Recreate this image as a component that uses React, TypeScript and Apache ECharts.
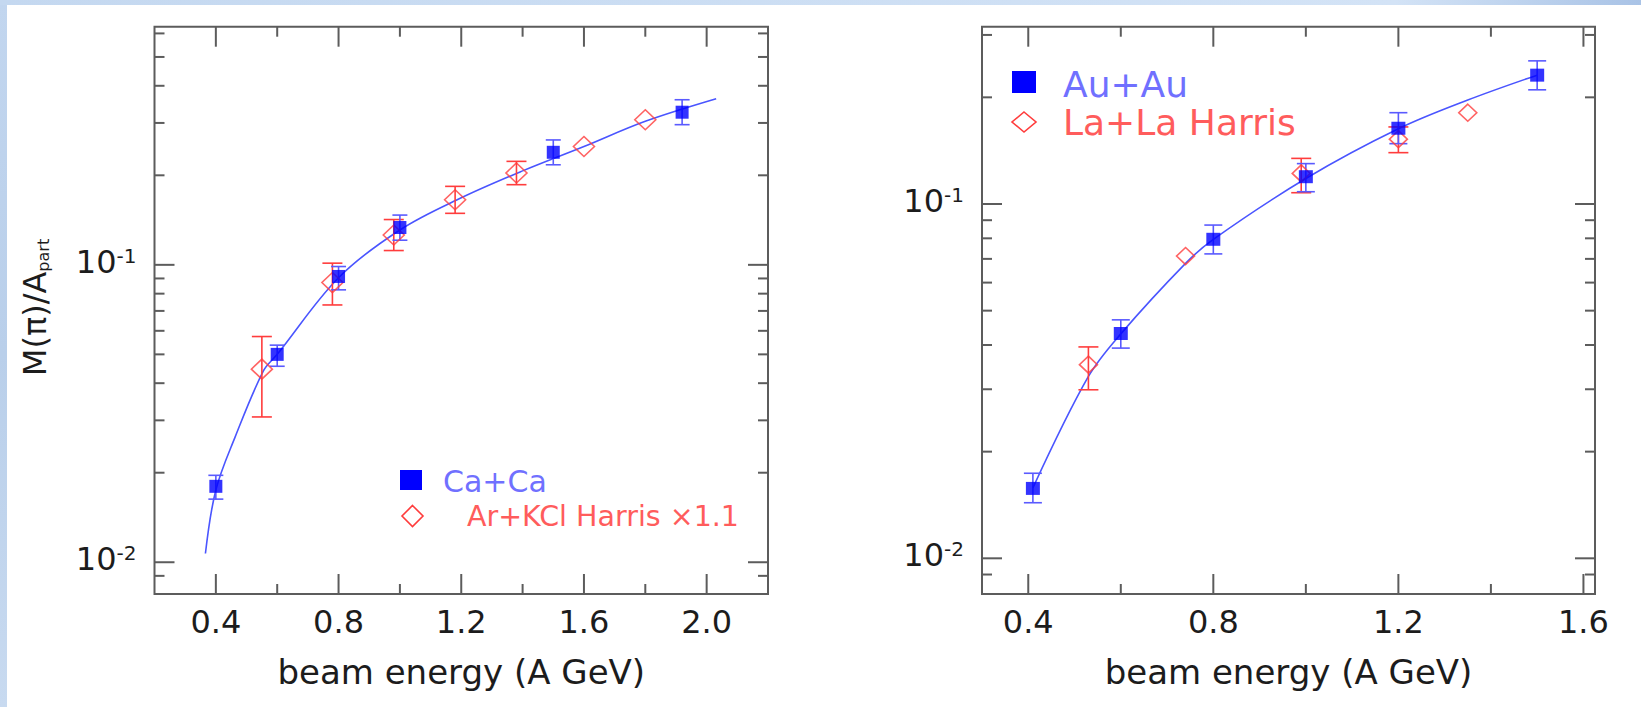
import React, { useEffect, useRef } from "react";
import * as echarts from "echarts";

const FONT = "'DejaVu Sans', 'Liberation Sans', sans-serif";
const TEXT = "#1c1c1c";
const FRAME = "#5c5c5c";
const BLUE = "#0000ff";
const BLUE_ERR = "#5a5aff";
const BLUE_LINE = "#4a55ff";
const RED = "#ff3c3c";

// ---------- Left panel: Ca+Ca and Ar+KCl ----------
const caX = [0.4, 0.6, 0.8, 1.0, 1.5, 1.92];
const caY = [0.018, 0.05, 0.0914, 0.1335, 0.239, 0.326];
const caLo = [0.0163, 0.0456, 0.0824, 0.121, 0.217, 0.296];
const caHi = [0.0196, 0.0537, 0.0987, 0.147, 0.263, 0.359];

const arX = [0.55, 0.78, 0.98, 1.18, 1.38, 1.6, 1.8];
const arY = [0.0446, 0.0872, 0.126, 0.1655, 0.2037, 0.25, 0.3075];
const arLo = [0.0308, 0.0733, 0.1117, 0.149, 0.186, null, null];
const arHi = [0.0574, 0.1013, 0.142, 0.1836, 0.2228, null, null];

const fitLX = [0.366, 0.4, 0.463, 0.555, 0.6, 0.8, 1.0, 1.2, 1.4, 1.6, 1.8, 2.031];
const fitLY = [0.0107, 0.0175, 0.0264, 0.044, 0.05, 0.0905, 0.131, 0.168, 0.207, 0.25, 0.304, 0.362];

// ---------- Right panel: Au+Au and La+La ----------
const auX = [0.41, 0.6, 0.8, 1.0, 1.2, 1.5];
const auY = [0.01575, 0.0431, 0.0795, 0.1194, 0.1636, 0.231];
const auLo = [0.01435, 0.0392, 0.0723, 0.1083, 0.148, 0.21];
const auHi = [0.01738, 0.0471, 0.0872, 0.13, 0.181, 0.2535];

const laX = [0.53, 0.74, 0.99, 1.2, 1.35];
const laY = [0.0352, 0.0713, 0.122, 0.1524, 0.181];
const laLo = [0.0299, null, 0.1076, 0.1396, null];
const laHi = [0.0395, null, 0.1345, 0.165, null];

const fitRX = [0.41, 0.53, 0.6, 0.74, 0.8, 1.0, 1.2, 1.35, 1.5];
const fitRY = [0.0158, 0.0326, 0.043, 0.068, 0.0795, 0.118, 0.163, 0.1965, 0.231];

// ---------- Axes ----------
const leftXRange = [0.2, 2.2];
const leftYRange = [0.00782, 0.632];
const rightXRange = [0.3, 1.625];
const rightYRange = [0.00793, 0.3165];

const leftXMajor = [0.4, 0.8, 1.2, 1.6, 2.0];
const leftXMinor = [0.6, 1.0, 1.4, 1.8];
const rightXMajor = [0.4, 0.8, 1.2, 1.6];
const rightXMinor = [0.6, 1.0, 1.4];
const yMajor = [0.01, 0.1];
const leftYMinor = [0.009, 0.02, 0.03, 0.04, 0.05, 0.06, 0.07, 0.08, 0.09, 0.2, 0.3, 0.4, 0.5, 0.6];
const rightYMinor = [0.009, 0.02, 0.03, 0.04, 0.05, 0.06, 0.07, 0.08, 0.09, 0.2, 0.3];

const xTitle = "beam energy (A GeV)";
const legendLeft = ["Ca+Ca", "Ar+KCl Harris ×1.1"];
const legendRight = ["Au+Au", "La+La Harris"];

const MAJOR_LEN = 20;
const MINOR_LEN = 10;

function tickData(xMajor: number[], xMinor: number[], yMinor: number[], xR: number[], yR: number[]) {
  const d: number[][] = [];
  xMajor.forEach((v) => d.push([v, yR[0], 0, MAJOR_LEN]));
  xMinor.forEach((v) => d.push([v, yR[0], 0, MINOR_LEN]));
  yMajor.forEach((v) => d.push([xR[0], v, 1, MAJOR_LEN]));
  yMinor.forEach((v) => d.push([xR[0], v, 1, MINOR_LEN]));
  return d;
}

function errData(xs: number[], lo: (number | null)[], hi: (number | null)[]) {
  const d: number[][] = [];
  xs.forEach((x, i) => {
    if (lo[i] != null && hi[i] != null) d.push([x, lo[i] as number, hi[i] as number]);
  });
  return d;
}

const tickRender = (params: any, api: any) => {
  const cs = params.coordSys;
  const kind = api.value(2);
  const len = api.value(3);
  const p = api.coord([api.value(0), api.value(1)]);
  const style = { stroke: FRAME, lineWidth: 2 };
  if (kind === 0) {
    const x = p[0];
    const b = cs.y + cs.height;
    const t = cs.y;
    return {
      type: "group",
      children: [
        { type: "line", shape: { x1: x, y1: b, x2: x, y2: b - len }, style },
        { type: "line", shape: { x1: x, y1: t, x2: x, y2: t + len }, style },
      ],
    };
  }
  const y = p[1];
  const l = cs.x;
  const r = cs.x + cs.width;
  return {
    type: "group",
    children: [
      { type: "line", shape: { x1: l, y1: y, x2: l + len, y2: y }, style },
      { type: "line", shape: { x1: r, y1: y, x2: r - len, y2: y }, style },
    ],
  };
};

const makeErrRender = (color: string, cap: number) => (params: any, api: any) => {
  const x = api.value(0);
  const a = api.coord([x, api.value(1)]);
  const b = api.coord([x, api.value(2)]);
  const style = { stroke: color, lineWidth: 1.6 };
  return {
    type: "group",
    children: [
      { type: "line", shape: { x1: a[0], y1: a[1], x2: b[0], y2: b[1] }, style },
      { type: "line", shape: { x1: a[0] - cap, y1: a[1], x2: a[0] + cap, y2: a[1] }, style },
      { type: "line", shape: { x1: b[0] - cap, y1: b[1], x2: b[0] + cap, y2: b[1] }, style },
    ],
  };
};

const near = (v: number, arr: number[]) => arr.some((a) => Math.abs(a - v) < 1e-6);

function xAxisCfg(idx: number, range: number[], interval: number, major: number[]) {
  return {
    type: "value",
    gridIndex: idx,
    min: range[0],
    max: range[1],
    interval,
    axisLine: { show: false },
    axisTick: { show: false },
    splitLine: { show: false },
    axisLabel: {
      margin: 12,
      fontSize: 32,
      fontFamily: FONT,
      color: TEXT,
      showMinLabel: true,
      showMaxLabel: true,
      hideOverlap: false,
      formatter: (v: number) => (near(v, major) ? v.toFixed(1) : ""),
    },
    name: xTitle,
    nameLocation: "middle",
    nameGap: 61,
    nameTextStyle: { fontSize: 34, fontFamily: FONT, color: TEXT },
  };
}

function yAxisCfg(idx: number, range: number[]) {
  return {
    type: "log",
    logBase: 10,
    gridIndex: idx,
    min: range[0],
    max: range[1],
    axisLine: { show: false },
    axisTick: { show: false },
    splitLine: { show: false },
    minorTick: { show: false },
    axisLabel: {
      margin: 18,
      padding: [0, 0, 6, 0],
      formatter: (v: number) => {
        const e = Math.log10(v);
        const r = Math.round(e);
        if (Math.abs(e - r) > 1e-6) return "";
        return `{b|10}{s|${r}}`;
      },
      rich: {
        b: { fontSize: 32, lineHeight: 32, fontFamily: FONT, color: TEXT, verticalAlign: "bottom" },
        s: { fontSize: 20, lineHeight: 20, fontFamily: FONT, color: TEXT, verticalAlign: "top", padding: [0, 0, 18, 0] },
      },
    },
  };
}

function panelSeries(
  idx: number,
  fitX: number[],
  fitY: number[],
  sqX: number[],
  sqY: number[],
  sqLo: (number | null)[],
  sqHi: (number | null)[],
  dX: number[],
  dY: number[],
  dLo: (number | null)[],
  dHi: (number | null)[],
  ticks: number[][],
  sqSize: number[],
  dSize: number[],
  blueCap: number,
  redCap: number
) {
  return [
    {
      type: "custom",
      xAxisIndex: idx,
      yAxisIndex: idx,
      renderItem: tickRender,
      data: ticks,
      encode: { x: 0, y: 1 },
      clip: false,
      silent: true,
      z: 1,
    },
    {
      type: "line",
      xAxisIndex: idx,
      yAxisIndex: idx,
      data: fitX.map((x, i) => [x, fitY[i]]),
      smooth: 0.35,
      showSymbol: false,
      lineStyle: { color: BLUE_LINE, width: 1.6 },
      z: 2,
    },
    {
      type: "custom",
      xAxisIndex: idx,
      yAxisIndex: idx,
      renderItem: makeErrRender(RED, redCap),
      data: errData(dX, dLo, dHi),
      encode: { x: 0, y: [1, 2] },
      z: 3,
    },
    {
      type: "custom",
      xAxisIndex: idx,
      yAxisIndex: idx,
      renderItem: makeErrRender(BLUE_ERR, blueCap),
      data: errData(sqX, sqLo, sqHi),
      encode: { x: 0, y: [1, 2] },
      z: 3,
    },
    {
      type: "scatter",
      xAxisIndex: idx,
      yAxisIndex: idx,
      data: dX.map((x, i) => [x, dY[i]]),
      symbol: "diamond",
      symbolSize: dSize,
      itemStyle: { color: "rgba(255,255,255,0)", borderColor: RED, borderWidth: 1.6 },
      z: 4,
    },
    {
      type: "scatter",
      xAxisIndex: idx,
      yAxisIndex: idx,
      data: sqX.map((x, i) => [x, sqY[i]]),
      symbol: "rect",
      symbolSize: sqSize,
      itemStyle: { color: BLUE },
      z: 5,
    },
  ];
}

function diamondPts(cx: number, cy: number, hw: number, hh: number) {
  return [
    [cx, cy - hh],
    [cx + hw, cy],
    [cx, cy + hh],
    [cx - hw, cy],
  ];
}

export default function App() {
  const ref = useRef<HTMLDivElement>(null);
  useEffect(() => {
    if (!ref.current) return;
    const chart = echarts.init(ref.current, undefined, { renderer: "svg" });
    const gridStyle = { show: true, borderColor: FRAME, borderWidth: 2, backgroundColor: "rgba(0,0,0,0)" };
    const option: any = {
      animation: false,
      backgroundColor: "#ffffff",
      grid: [
        { left: 154.5, top: 26.7, width: 613.5, height: 567.3, ...gridStyle },
        { left: 982, top: 26.7, width: 613, height: 567.3, ...gridStyle },
      ],
      xAxis: [xAxisCfg(0, leftXRange, 0.2, leftXMajor), xAxisCfg(1, rightXRange, 0.1, rightXMajor)],
      yAxis: [yAxisCfg(0, leftYRange), yAxisCfg(1, rightYRange)],
      series: [
        ...panelSeries(0, fitLX, fitLY, caX, caY, caLo, caHi, arX, arY, arLo, arHi,
          tickData(leftXMajor, leftXMinor, leftYMinor, leftXRange, leftYRange), [13, 13], [21, 20], 7.5, 10),
        ...panelSeries(1, fitRX, fitRY, auX, auY, auLo, auHi, laX, laY, laLo, laHi,
          tickData(rightXMajor, rightXMinor, rightYMinor, rightXRange, rightYRange), [14, 13], [18, 17], 9, 10),
      ],
      graphic: [
        {
          type: "rect",
          z: -10,
          shape: { x: 0, y: 0, width: 7, height: 707 },
          style: {
            fill: new echarts.graphic.LinearGradient(0, 0, 0, 1, [
              { offset: 0, color: "#c2d6ef" },
              { offset: 0.5, color: "#b9cfea" },
              { offset: 1, color: "#c8daf0" },
            ]),
          },
        },
        {
          type: "rect",
          z: -10,
          shape: { x: 0, y: 0, width: 1641, height: 5 },
          style: {
            fill: new echarts.graphic.LinearGradient(0, 0, 1, 0, [
              { offset: 0, color: "#c4d8f0" },
              { offset: 0.85, color: "#d3e3f6" },
              { offset: 1, color: "#a9c3e6" },
            ]),
          },
        },
        // y-axis title
        {
          type: "text",
          x: 35,
          y: 307.5,
          rotation: Math.PI / 2,
          style: {
            text: "{m|M(π)/A}{p|part}",
            align: "center",
            verticalAlign: "middle",
            fill: TEXT,
            rich: {
              m: { fontSize: 32, lineHeight: 32, fontFamily: FONT, fill: TEXT, verticalAlign: "top" },
              p: { fontSize: 16, lineHeight: 16, fontFamily: FONT, fill: TEXT, verticalAlign: "bottom", padding: [30, 0, 0, 0] },
            },
          },
        },
        // left legend
        { type: "rect", shape: { x: 400, y: 470, width: 22, height: 20 }, style: { fill: BLUE } },
        {
          type: "text",
          x: 443,
          y: 481,
          style: { text: legendLeft[0], fontSize: 30, fontFamily: FONT, fill: "#7070ff", verticalAlign: "middle", align: "left" },
        },
        {
          type: "polygon",
          shape: { points: diamondPts(412.5, 516, 10.5, 10.5) },
          style: { fill: "none", stroke: RED, lineWidth: 1.6 },
        },
        {
          type: "text",
          x: 467,
          y: 516,
          style: { text: legendLeft[1], fontSize: 28.5, fontFamily: FONT, fill: "#ff5c5c", verticalAlign: "middle", align: "left" },
        },
        // right legend
        { type: "rect", shape: { x: 1012, y: 71, width: 24, height: 22 }, style: { fill: BLUE } },
        {
          type: "text",
          x: 1063,
          y: 84,
          style: { text: legendRight[0], fontSize: 36, fontFamily: FONT, fill: "#7070ff", verticalAlign: "middle", align: "left" },
        },
        {
          type: "polygon",
          shape: { points: diamondPts(1024, 122, 12, 10) },
          style: { fill: "none", stroke: RED, lineWidth: 1.6 },
        },
        {
          type: "text",
          x: 1063,
          y: 122.5,
          style: { text: legendRight[1], fontSize: 36, fontFamily: FONT, fill: "#ff5c5c", verticalAlign: "middle", align: "left" },
        },
      ],
    };
    chart.setOption(option);
    return () => chart.dispose();
  }, []);
  return (
    <div
      ref={ref}
      style={{ position: "absolute", left: 0, top: 0, width: 1641, height: 707, background: "#fff" }}
    />
  );
}
